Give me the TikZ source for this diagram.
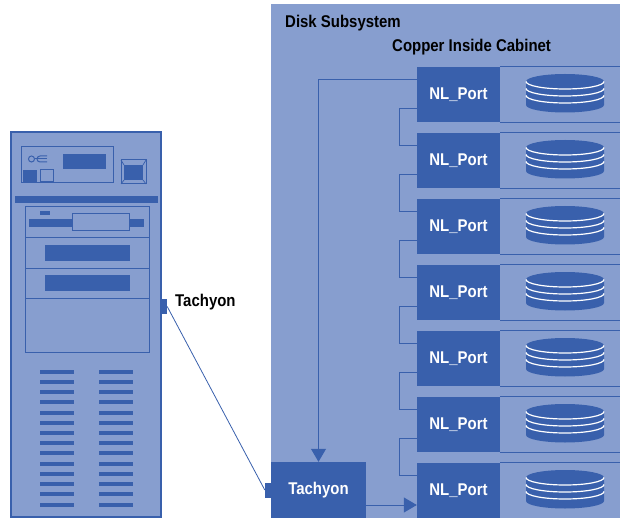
\documentclass[tikz,border=0pt]{standalone}
\usepackage{fontspec}
\setmainfont{Liberation Sans}[FakeStretch=0.88]
\usetikzlibrary{arrows.meta,positioning}

\definecolor{panelblue}{RGB}{135,158,207}
\definecolor{darkblue}{RGB}{57,96,172}

\begin{document}
\begin{tikzpicture}[x=1pt, y=-1pt,
      lbl/.style={font=\fontsize{17}{20}\selectfont\bfseries, text=black, inner sep=0pt},
      portbox/.style={fill=darkblue, minimum width=83pt, minimum height=55pt, inner sep=0pt,
                      font=\fontsize{17}{20}\selectfont\bfseries, text=white},
      tab/.style={fill=darkblue, minimum width=6pt, minimum height=15pt, inner sep=0pt},
      wire/.style={darkblue, line width=1pt},
      arr/.style={wire, -{Triangle[length=13pt,width=15pt]}}
    ]
      \useasboundingbox (0,0) rectangle (620,518);

      % disk subsystem cabinet
      \fill[panelblue] (271,4) rectangle (640,530);
      \node[lbl, anchor=base west] (dsub) at (285,28) {Disk Subsystem};
      \node[lbl, anchor=base west] (cab) at (392,52) {Copper Inside Cabinet};

      % server tower
      \draw[darkblue, line width=2pt, fill=panelblue] (11,132) rectangle (161,517);
      \draw[wire] (21,147) rectangle (113,183);
      \fill[darkblue] (63,154) rectangle (106,169);
      \draw[darkblue, line width=1pt] (31.5,159) circle (3pt);
      \draw[darkblue, line width=1pt] (47,156) -- (40,156) arc[start angle=90, end angle=270, radius=3pt] -- (47,162);
      \draw[darkblue, line width=1pt] (35,159) -- (47,159);
      \fill[darkblue] (23,170) rectangle (37,182);
      \draw[wire] (40,170) rectangle (53,182);
      \draw[wire] (121,160) rectangle (146,184);
      \fill[darkblue] (124,165) rectangle (143,180);
      \draw[darkblue, line width=0.7pt] (121,160) -- (124,165) (146,160) -- (143,165)
                                      (121,184) -- (124,180) (146,184) -- (143,180);
      \fill[darkblue] (15,196) rectangle (158,203);
      \draw[wire] (25,207) rectangle (149,352);
      \foreach \y in {238,268,298}
        \draw[wire] (25,\y) -- (149,\y);
      \fill[darkblue] (40,211) rectangle (50,215);
      \fill[darkblue] (29,219) rectangle (144,227);
      \draw[wire, fill=panelblue] (72,214) rectangle (129,231);
      \fill[darkblue] (45,245) rectangle (130,261);
      \fill[darkblue] (45,275) rectangle (130,291);
      % vent slots
      \foreach \y in {370,380,390,400,411,421,431,441,451,462,472,482,492,503} {
        \fill[darkblue] (40,\y) rectangle (74,\y+4);
        \fill[darkblue] (99,\y) rectangle (133,\y+4);
      }

      % Tachyon link
      \node[tab] (hosttab) at (164,306.5) {};
      \node[lbl, anchor=base west] (hostlbl) at (175,306) {Tachyon};
      \node[portbox, minimum width=95pt, minimum height=56pt] (tach) at (318.5,490) {Tachyon};
      \node[tab] (tachtab) at (268,490) {};
      \draw[darkblue, line width=0.8pt] (hosttab.east) -- (tachtab.west);

      % NL_Port loop with disks
      \foreach \i [evaluate=\i as \t using {67+66*(\i-1)}] in {1,...,7} {
        \node[portbox] (nl\i) at (458.5,\t+27.5) {NL\_Port};
        \draw[wire] (nl\i.north east) -- ++(140,0) (nl\i.south east) -- ++(140,0);
        \fill[darkblue] (526,\t+14.5) -- (526,\t+38)
          arc[start angle=180, end angle=360, x radius=39pt, y radius=7.5pt]
          -- (604,\t+14.5)
          arc[start angle=0, end angle=180, x radius=39pt, y radius=7.5pt] -- cycle;
        \foreach \d in {14.5,21.5,28.5}
          \draw[white, line width=1.2pt] (526,\t+\d)
            arc[start angle=180, end angle=360, x radius=39pt, y radius=7.5pt];
      }
      \foreach \i [evaluate=\i as \j using int(\i+1)] in {1,...,6}
        \draw[wire] ([yshift=14pt]nl\i.south west) -- ++(-17,0) |- ([yshift=-13pt]nl\j.north west);

      \draw[arr] ([yshift=-13pt]nl1.north west) -| (tach.north);
      \draw[arr] ([yshift=-15pt]tach.east) -- ([yshift=-15pt]tach.east -| nl7.west);
    \end{tikzpicture}
\end{document}
